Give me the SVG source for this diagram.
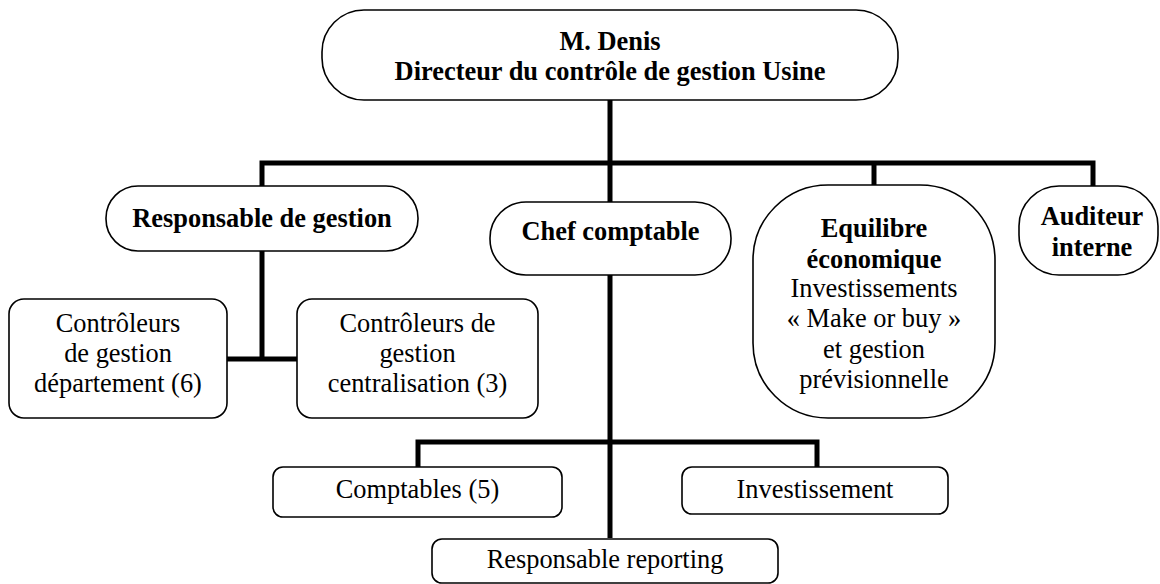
<svg xmlns="http://www.w3.org/2000/svg" width="1160" height="584" viewBox="0 0 1160 584">
<style>
.box{fill:#fff;stroke:#000;stroke-width:1.6}
.ln{fill:none;stroke:#000;stroke-width:5;stroke-linejoin:miter;stroke-linecap:butt}
text{font-size:26.4px;fill:#000;text-anchor:middle}
.b{font-weight:bold}
</style>
<rect width="1160" height="584" fill="#fff"/>
<g id="connectors">
<path class="ln" d="M610 100 V538"/>
<path class="ln" d="M262 186 V163 H1093 V186"/>
<path class="ln" d="M874 163 V185"/>
<path class="ln" d="M262 251 V359"/>
<path class="ln" d="M227 359 H297"/>
<path class="ln" d="M418 467 V442 H817 V467"/>
</g>
<g font-family="Liberation Serif, Times New Roman, DejaVu Serif, serif">
<g id="n-denis">
<rect class="box" x="322" y="10" width="576" height="90" rx="42" ry="42"/>
<text class="b" x="610" y="50">M. Denis</text>
<text class="b" x="610" y="80">Directeur du contrôle de gestion Usine</text>
</g>
<g id="n-resp-gestion">
<rect class="box" x="106" y="186" width="312" height="65" rx="32" ry="32"/>
<text class="b" x="262" y="227">Responsable de gestion</text>
</g>
<g id="n-chef-comptable">
<rect class="box" x="490" y="202" width="241" height="73" rx="36" ry="36"/>
<text class="b" x="610.5" y="240">Chef comptable</text>
</g>
<g id="n-equilibre">
<rect class="box" x="753" y="185" width="242" height="233" rx="75" ry="75"/>
<text class="b" x="874" y="237">Equilibre</text>
<text class="b" x="874" y="268">économique</text>
<text x="874" y="297">Investissements</text>
<text x="874" y="327">« Make or buy »</text>
<text x="874" y="358">et gestion</text>
<text x="874" y="388">prévisionnelle</text>
</g>
<g id="n-auditeur">
<rect class="box" x="1019" y="186" width="139" height="89" rx="40" ry="40"/>
<text class="b" x="1092" y="225">Auditeur</text>
<text class="b" x="1092" y="256">interne</text>
</g>
<g id="n-ctrl-dep">
<rect class="box" x="9" y="299" width="218" height="119" rx="15" ry="15"/>
<text x="118" y="332">Contrôleurs</text>
<text x="118" y="362">de gestion</text>
<text x="118" y="392">département (6)</text>
</g>
<g id="n-ctrl-cent">
<rect class="box" x="297" y="299" width="241" height="119" rx="15" ry="15"/>
<text x="417.5" y="332">Contrôleurs de</text>
<text x="417.5" y="362">gestion</text>
<text x="417.5" y="392">centralisation (3)</text>
</g>
<g id="n-comptables">
<rect class="box" x="273" y="467" width="289" height="50" rx="10" ry="10"/>
<text x="417.5" y="498">Comptables (5)</text>
</g>
<g id="n-investissement">
<rect class="box" x="682" y="467" width="266" height="47" rx="10" ry="10"/>
<text x="815" y="498">Investissement</text>
</g>
<g id="n-reporting">
<rect class="box" x="432" y="539" width="346" height="44" rx="10" ry="10"/>
<text x="605" y="568">Responsable reporting</text>
</g>
</g>
</svg>
